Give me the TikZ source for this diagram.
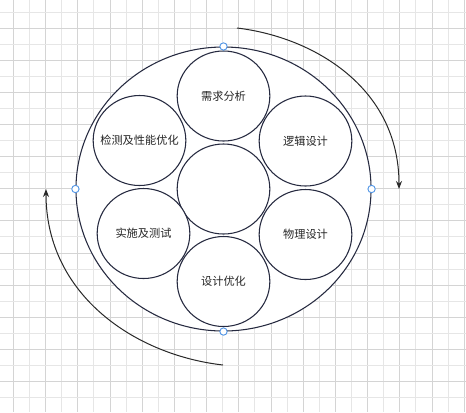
\documentclass[tikz,border=0pt]{standalone}
\usepackage{fontspec}
\usepackage{xcolor}
\usepackage{tikz}
\newfontfamily\cjk{Noto Sans CJK SC}
\definecolor{ringline}{RGB}{38, 42, 64}
\definecolor{arrowline}{RGB}{40, 40, 40}
\definecolor{handleblue}{RGB}{82, 150, 230}
\definecolor{gridminor}{RGB}{230, 230, 230}
\definecolor{gridmajor}{RGB}{212, 212, 212}
\usetikzlibrary{shapes.geometric,arrows.meta,positioning,calc}
% keep long labels from widening the circles
\newcommand{\phase}[1]{\makebox[0pt]{#1}}

\begin{document}
\begin{tikzpicture}[
    x=0.75pt, y=-0.75pt,
    stage/.style={
        ellipse,
        draw=ringline,
        line width=0.8pt,
        fill=white,
        minimum width=69.5pt,
        minimum height=67.5pt,
        inner sep=0pt,
        align=center,
        font=\cjk\fontsize{8.4}{10}\selectfont,
        text=black!85
    },
    handle/.style={
        circle,
        draw=handleblue,
        fill=white,
        line width=0.7pt,
        minimum size=5.5pt,
        inner sep=0pt
    },
    cycle/.style={
        draw=arrowline,
        line width=0.75pt,
        -{Stealth[length=6pt,width=4.5pt]}
    }
]
    % Canvas and grid
    \useasboundingbox (0,0) rectangle (466,412);
    \fill[white] (0,0) rectangle (466,412);
    \foreach \i in {0,...,28} {
        \pgfmathsetmacro{\gx}{13.3+16.1*\i}
        \pgfmathtruncatemacro{\odd}{mod(\i,2)}
        \ifnum\odd=0
            \draw[gridmajor, line width=0.6pt] (\gx,0) -- (\gx,412);
        \else
            \draw[gridminor, line width=0.6pt] (\gx,0) -- (\gx,412);
        \fi
    }
    \foreach \j in {0,...,25} {
        \pgfmathsetmacro{\gy}{12.3+16.04*\j}
        \pgfmathtruncatemacro{\odd}{mod(\j,2)}
        \ifnum\odd=1
            \draw[gridmajor, line width=0.6pt] (0,\gy) -- (466,\gy);
        \else
            \draw[gridminor, line width=0.6pt] (0,\gy) -- (466,\gy);
        \fi
    }

    % Outer ring
    \node[ellipse, draw=ringline, line width=0.8pt, fill=white,
          minimum width=221.3pt, minimum height=213pt, inner sep=0pt]
          (ring) at (223.5,189) {};

    % Stages
    \node[stage] (hub)   at (223.5,189)   {};
    \node[stage] (req)   at (223.5,96)    {\phase{需求分析}};
    \node[stage] (logic) at (305.5,141)   {\phase{逻辑设计}};
    \node[stage] (phys)  at (305.5,234.5) {\phase{物理设计}};
    \node[stage] (opt)   at (223.5,281.5) {\phase{设计优化}};
    \node[stage] (impl)  at (143.5,233.5) {\phase{实施及测试}};
    \node[stage] (tune)  at (139.5,140.5) {\phase{检测及性能优化}};

    % Handles on the ring
    \node[handle] (hN) at (ring.north) {};
    \node[handle] (hS) at (ring.south) {};
    \node[handle] (hW) at (ring.west)  {};
    \node[handle] (hE) at (ring.east)  {};

    % Cycle arrows
    \coordinate (rightfrom) at (237,28);
    \coordinate (rightto)   at (399,189);
    \coordinate (leftfrom)  at (223,365);
    \coordinate (leftto)    at (46,189);
    \draw[cycle] (rightfrom) .. controls (313,37) and (399,87) .. (rightto);
    \draw[cycle] (leftfrom) .. controls (135,355) and (46,295) .. (leftto);
\end{tikzpicture}
\end{document}
